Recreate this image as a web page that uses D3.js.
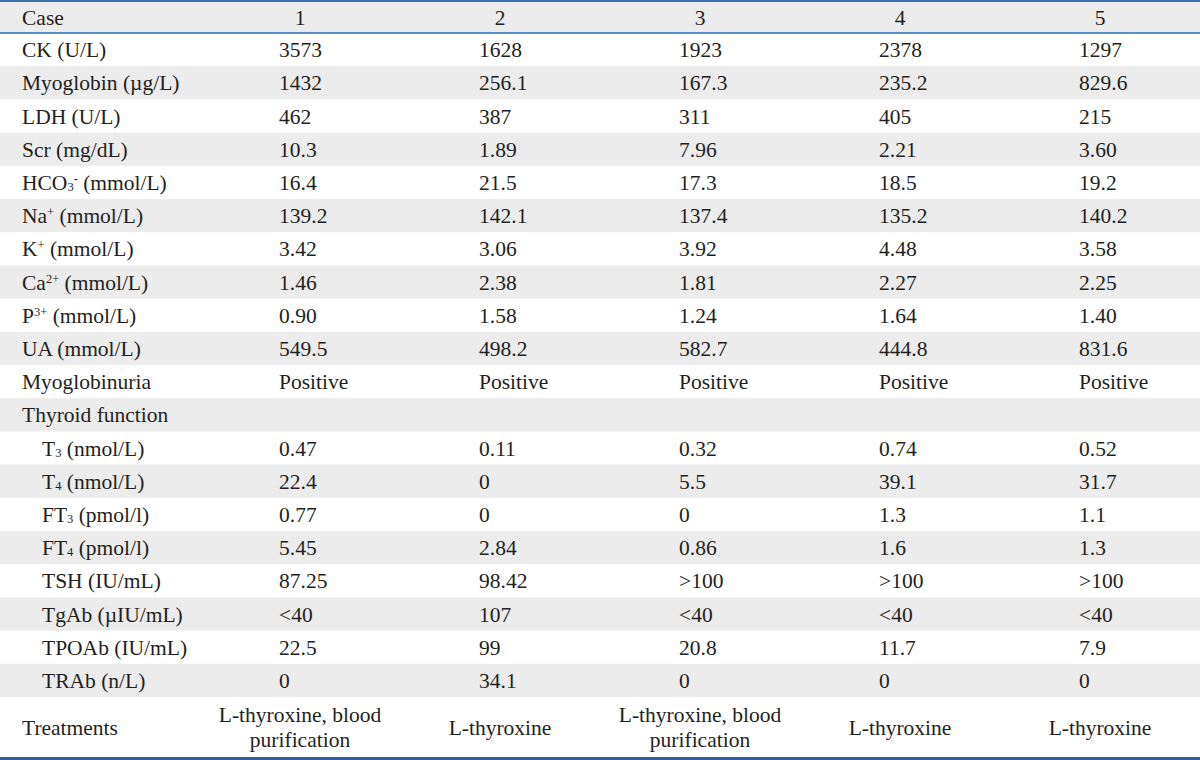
<!DOCTYPE html>
<html>
<head>
<meta charset="utf-8">
<script src="https://cdn.jsdelivr.net/npm/d3@7/dist/d3.min.js"></script>
<style>
  body { margin: 0; background: #fff; }
  text { font-family: "Liberation Serif", "Times New Roman", serif; fill: #231f20; }
</style>
</head>
<body>
<svg id="table" width="1200" height="760"></svg>
<script>
// column headers
var cases = ["1", "2", "3", "4", "5"];

// row labels (<sub>/<sup> parsed into tspans), indent flag for thyroid sub rows
var rowLabels = ["CK (U/L)", "Myoglobin (\u00b5g/L)", "LDH (U/L)", "Scr (mg/dL)",
  "HCO<sub>3</sub><sup>-</sup> (mmol/L)", "Na<sup>+</sup> (mmol/L)", "K<sup>+</sup> (mmol/L)",
  "Ca<sup>2+</sup> (mmol/L)", "P<sup>3+</sup> (mmol/L)", "UA (mmol/L)", "Myoglobinuria",
  "Thyroid function", "T<sub>3</sub> (nmol/L)", "T<sub>4</sub> (nmol/L)", "FT<sub>3</sub> (pmol/l)",
  "FT<sub>4</sub> (pmol/l)", "TSH (IU/mL)", "TgAb (\u00b5IU/mL)", "TPOAb (IU/mL)", "TRAb (n/L)"];
var indented = [0,0,0,0,0,0,0,0,0,0,0,0,1,1,1,1,1,1,1,1];

// values, one array per case
var case1 = ["3573", "1432", "462", "10.3", "16.4", "139.2", "3.42", "1.46", "0.90", "549.5", "Positive", "", "0.47", "22.4", "0.77", "5.45", "87.25", "<40", "22.5", "0"];
var case2 = ["1628", "256.1", "387", "1.89", "21.5", "142.1", "3.06", "2.38", "1.58", "498.2", "Positive", "", "0.11", "0", "0", "2.84", "98.42", "107", "99", "34.1"];
var case3 = ["1923", "167.3", "311", "7.96", "17.3", "137.4", "3.92", "1.81", "1.24", "582.7", "Positive", "", "0.32", "5.5", "0", "0.86", ">100", "<40", "20.8", "0"];
var case4 = ["2378", "235.2", "405", "2.21", "18.5", "135.2", "4.48", "2.27", "1.64", "444.8", "Positive", "", "0.74", "39.1", "1.3", "1.6", ">100", "<40", "11.7", "0"];
var case5 = ["1297", "829.6", "215", "3.60", "19.2", "140.2", "3.58", "2.25", "1.40", "831.6", "Positive", "", "0.52", "31.7", "1.1", "1.3", ">100", "<40", "7.9", "0"];
var values = [case1, case2, case3, case4, case5];

// treatments (split into display lines)
var treatments = [["L-thyroxine, blood", "purification"], ["L-thyroxine"],
  ["L-thyroxine, blood", "purification"], ["L-thyroxine"], ["L-thyroxine"]];

var svg = d3.select("#table"),
    W = 1200,
    top0 = 2, headH = 31, rowH = 33.2, treatH = 60,
    fs = 21.5;

var x = d3.scaleBand().domain(cases).range([200, 1200]);
var y = d3.scaleBand().domain(d3.range(rowLabels.length))
    .range([top0 + headH, top0 + headH + rowH * rowLabels.length]).padding(0);
var treatTop = y.range()[1];
var bottom = treatTop + treatH;

// write a label that may contain <sub>/<sup>
function richText(sel, str) {
  var re = /<(sub|sup)>(.*?)<\/\1>/g, last = 0, m;
  while ((m = re.exec(str)) !== null) {
    if (m.index > last) sel.append("tspan").text(str.slice(last, m.index));
    sel.append("tspan")
      .attr("font-size", fs * 0.58)
      .attr("baseline-shift", m[1] == "sup" ? "60%" : "-8%")
      .text(m[2]);
    last = re.lastIndex;
  }
  if (last < str.length) sel.append("tspan").text(str.slice(last));
}

// shading
svg.append("rect").attr("x", 0).attr("y", top0).attr("width", W).attr("height", headH).attr("fill", "#ececec");
svg.append("g").selectAll("rect")
  .data(rowLabels.map(function(d, i){ return i; }).filter(function(i){ return i % 2 == 1; }))
  .enter().append("rect")
    .attr("x", 0).attr("width", W)
    .attr("y", function(i){ return y(i); })
    .attr("height", y.bandwidth())
    .attr("fill", "#ececec");

// rules
svg.append("rect").attr("x", 0).attr("y", 0).attr("width", W).attr("height", 2).attr("fill", "#3f70ad");
svg.append("rect").attr("x", 0).attr("y", top0 + headH - 1).attr("width", W).attr("height", 2).attr("fill", "#5b8cc6");
svg.append("rect").attr("x", 0).attr("y", bottom).attr("width", W).attr("height", 3).attr("fill", "#2f5f9d");

// header
var head = svg.append("g").attr("font-size", fs);
head.append("text").attr("x", 22).attr("y", top0 + headH / 2).attr("dy", "0.35em").text("Case");
head.selectAll("text.col").data(cases).enter().append("text")
  .attr("class", "col")
  .attr("x", function(d){ return x(d) + x.bandwidth() / 2; })
  .attr("y", top0 + headH / 2).attr("dy", "0.35em")
  .attr("text-anchor", "middle")
  .text(function(d){ return d; });

// row labels
var body = svg.append("g").attr("font-size", fs);
body.selectAll("text.lab").data(rowLabels).enter().append("text")
  .attr("class", "lab")
  .attr("x", function(d, i){ return indented[i] ? 42 : 22; })
  .attr("y", function(d, i){ return y(i) + y.bandwidth() / 2; })
  .attr("dy", "0.35em")
  .each(function(d){ richText(d3.select(this), d); });

// values
values.forEach(function(col, c) {
  body.append("g").selectAll("text").data(col).enter().append("text")
    .attr("x", x(cases[c]) + x.bandwidth() / 2 - 21)
    .attr("y", function(d, i){ return y(i) + y.bandwidth() / 2; })
    .attr("dy", "0.35em")
    .text(function(d){ return d; });
});

// treatments row
body.append("text").attr("x", 22).attr("y", treatTop + treatH / 2).attr("dy", "0.35em").text("Treatments");
treatments.forEach(function(lines, c) {
  var t = body.append("text").attr("text-anchor", "middle");
  lines.forEach(function(l, k) {
    t.append("tspan")
      .attr("x", x(cases[c]) + x.bandwidth() / 2)
      .attr("y", treatTop + treatH / 2 + (k - (lines.length - 1) / 2) * 25)
      .attr("dy", "0.35em")
      .text(l);
  });
});
</script>
</body>
</html>
